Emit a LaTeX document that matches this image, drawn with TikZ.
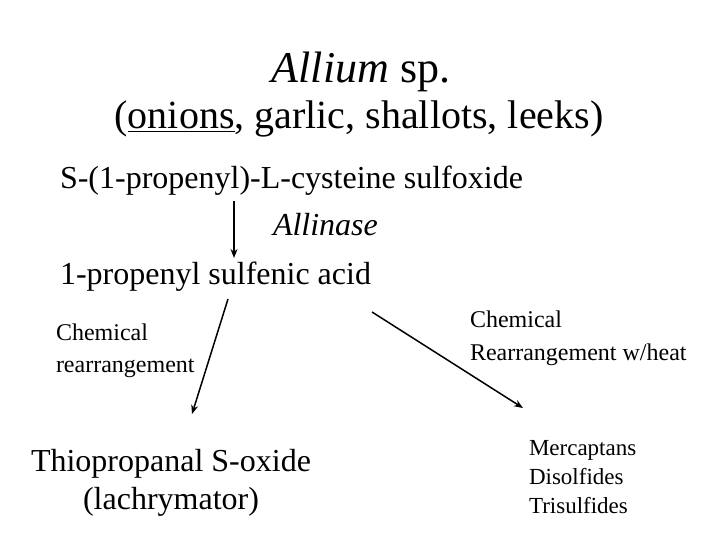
\documentclass[tikz,border=0pt]{standalone}
\usepackage{fontspec}
\setmainfont{Liberation Serif}
\usetikzlibrary{arrows.meta}
\tikzset{
  txt/.style={inner sep=0pt, outer sep=0pt, text=black},
  big/.style={txt, font=\fontsize{32}{32}\selectfont},
  small/.style={txt, anchor=base west, font=\fontsize{24}{24}\selectfont},
  prod/.style={txt, anchor=base west, font=\fontsize{23}{23}\selectfont},
  arr/.style={draw=black, line width=1.5pt, -{Stealth[length=9pt,width=7pt]}},
}
\begin{document}
\begin{tikzpicture}[x=1pt,y=-1pt]
\useasboundingbox (0,0) rectangle (720,540);
\fill[white] (0,0) rectangle (720,540);
\node[txt, anchor=base, font=\fontsize{44}{44}\selectfont] (title) at (361,83) {\textit{Allium} sp.};
\node[txt, anchor=base, font=\fontsize{40}{40}\selectfont] (sub) at (359,129) {(\underline{onions}, garlic, shallots, leeks)};
\node[big, anchor=base west] (cys) at (60,189) {S-(1-propenyl)-L-cysteine sulfoxide};
\node[big, anchor=base west] (enz) at (273,236) {\textit{Allinase}};
\node[big, anchor=base west] (acid) at (60,284) {1-propenyl sulfenic acid};
\node[small] (chemL1) at (56,340) {Chemical};
\node[small] (chemL2) at (56,372) {rearrangement};
\node[small] (chemR1) at (470,327) {Chemical};
\node[small] (chemR2) at (470,360) {Rearrangement w/heat};
\node[big, anchor=base] (thio1) at (171,471) {Thiopropanal S-oxide};
\node[big, anchor=base] (thio2) at (171,509) {(lachrymator)};
\node[prod] (merc1) at (529,455) {Mercaptans};
\node[prod] (merc2) at (529,484) {Disolfides};
\node[prod] (merc3) at (529,513) {Trisulfides};
\coordinate (a1s) at (234,201);
\coordinate (a1e) at (234,258);
\coordinate (a2s) at (228,299);
\coordinate (a2e) at (192,414);
\coordinate (a3s) at (372,312);
\coordinate (a3e) at (523,408);
\draw[arr] (a1s) -- (a1e);
\draw[arr] (a2s) -- (a2e);
\draw[arr] (a3s) -- (a3e);
\end{tikzpicture}
\end{document}
